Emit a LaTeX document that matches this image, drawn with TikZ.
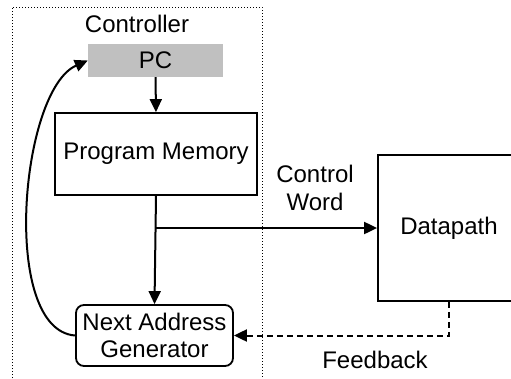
\documentclass[tikz,border=0pt]{standalone}
\usepackage{fontspec}
\setmainfont{Liberation Sans}
\usetikzlibrary{arrows.meta,positioning}
\begin{document}
\begin{tikzpicture}[x=1pt,y=-1pt,
  every node/.style={font=\fontsize{24}{27.5}\selectfont, inner sep=0pt},
  blk/.style={draw, line width=1.8pt, align=center},
  conn/.style={line width=2pt, -{Triangle[length=13pt,width=12pt]}},
  lbl/.style={align=center}]
\useasboundingbox (0,0) rectangle (511,378);
\begin{scope}
\clip (0,0) rectangle (511,378);
% controller dotted frame
\draw[line width=1pt, dotted] (12,390) -- (12,7) -- (262,7) -- (262,390);
\node (ctrl) at (137,24) {Controller};
\node[fill={rgb,255:red,192;green,192;blue,192}, minimum width=135pt, minimum height=33pt] (pc) at (155.5,60.5) {PC};
\node[blk, minimum width=202pt, minimum height=82pt] (pm) at (156,154) {Program Memory};
\node[blk, minimum width=142pt, minimum height=146pt] (dp) at (449,228) {Datapath};
\node[blk, rounded corners=8pt, minimum width=157pt, minimum height=61pt] (nag) at (154.5,335.5) {Next Address\\Generator};
\coordinate (br) at (pm.south |- dp.west);
\node[lbl] (cw) at (315,188) {Control\\Word};
\node (fb) at (375,360) {Feedback};
\draw[conn] (pc.south) -- (pm.north);
\draw[conn] (pm.south) -- (nag.north);
\draw[conn] (br) -- (dp.west);
\draw[conn, dashed, dash pattern=on 6pt off 4pt] (dp.south) |- (nag.east);
\draw[conn] (nag.west) .. controls (0,330) and (20,90) .. (pc.west);
\end{scope}
\end{tikzpicture}
\end{document}
